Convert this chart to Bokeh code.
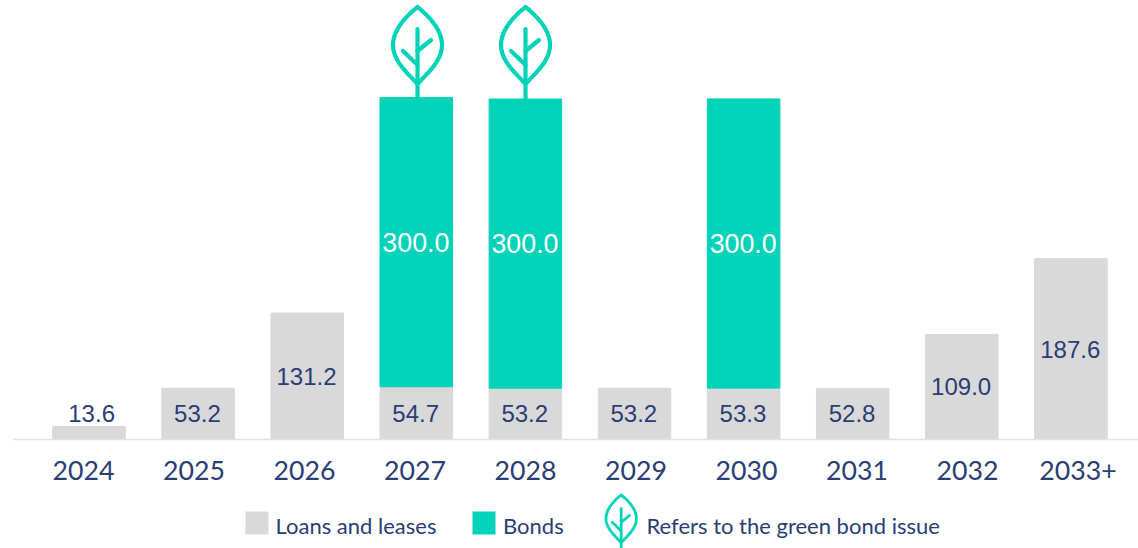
import numpy as np
from bokeh.core.properties import value
from bokeh.embed import file_html
from bokeh.models import ColumnDataSource, FixedTicker, LinearAxis, Range1d
from bokeh.plotting import figure
from bokeh.resources import INLINE

years = ["2024", "2025", "2026", "2027", "2028", "2029", "2030", "2031", "2032", "2033+"]
loans = [13.6, 53.2, 131.2, 54.7, 53.2, 53.2, 53.3, 52.8, 109.0, 187.6]
bonds = [0, 0, 0, 300.0, 300.0, 0, 300.0, 0, 0, 0]
green_years = ["2027", "2028"]
legend_names = ["Loans and leases", "Bonds", "Refers to the green bond issue"]

GREY, GREEN, NAVY = "#d9d9d9", "#00d3b7", "#2a3d75"
W, H, LEFT = 1138, 548, 12
BASE_PX, PX_PER_UNIT = 439.0, 0.964
BAR0, BAR_STEP = 88.5, 109.1
LAB0, LAB_STEP = 83.0, 110.5


def xd(px):
    return (np.asarray(px, dtype=float) - BAR0) / BAR_STEP


def yd(py):
    return (BASE_PX - np.asarray(py, dtype=float)) / PX_PER_UNIT


p = figure(width=W, height=H, output_backend="svg", toolbar_location=None,
           x_range=Range1d(float(xd(LEFT)), float(xd(W))),
           y_range=Range1d(float(yd(H)), float(yd(0))),
           x_axis_location=None, y_axis_location=None,
           min_border_left=LEFT, min_border_right=0, min_border_top=0, min_border_bottom=0,
           background_fill_color="white", border_fill_color="white")
p.outline_line_color = None
p.grid.visible = False

idx = list(range(len(years)))
p.extra_x_ranges["labels"] = Range1d((LEFT - LAB0) / LAB_STEP, (W - LAB0) / LAB_STEP)
axis = LinearAxis(x_range_name="labels", fixed_location=0, ticker=FixedTicker(ticks=idx),
                  major_label_overrides=dict(zip(idx, years)),
                  major_tick_line_color=None, minor_tick_line_color=None,
                  axis_line_color="#e2e2e2", axis_line_width=1.5,
                  major_label_standoff=15,
                  major_label_text_font="Lato", major_label_text_font_size="26.7px",
                  major_label_text_color=NAVY)
p.add_layout(axis, "below")

loans_a, bonds_a = np.array(loans), np.array(bonds)
src = ColumnDataSource(dict(x=idx, loans=loans, top=loans_a + bonds_a))
p.vbar(x="x", bottom=0, top="loans", width=0.665, color=GREY, source=src)
mask = bonds_a > 0
p.vbar(x=np.array(idx)[mask], bottom=loans_a[mask], top=(loans_a + bonds_a)[mask],
       width=0.665, color=GREEN)

# data labels: the smallest bar's label sits above the bar, a little to the right
label_y = np.maximum(loans_a / 2, 26.5)
label_x = np.array(idx, dtype=float) - 0.006
label_x[loans_a < 20] += 0.03
p.text(label_x, label_y, text=[f"{v:.1f}" for v in loans], text_align="center", text_baseline="middle",
       text_font=value("Liberation Sans"), text_font_size="24px", text_color=NAVY)
p.text(np.array(idx)[mask] - 0.004, loans_a[mask] + bonds_a[mask] / 2,
       text=[f"{v:.1f}" for v in bonds_a[mask]], text_align="center", text_baseline="middle",
       text_font=value("Liberation Sans"), text_font_size="26.8px", text_color="white")


def bez(p0, c0, c1, p1, n=24):
    t = np.linspace(0, 1, n)[:, None]
    a = np.array
    return (1-t)**3*a(p0) + 3*(1-t)**2*t*a(c0) + 3*(1-t)*t**2*a(c1) + t**3*a(p1)


def leaf(cx, cy, s, stem_bottom, lw):
    """Leaf icon drawn around page pixel (cx, cy) at scale s."""
    outline = np.vstack([
        bez((0, -38), (10, -30), (24.5, -16), (24.5, 0)),
        bez((24.5, 0), (24.5, 16), (10, 28), (0, 39)),
        bez((0, 39), (-10, 28), (-24.5, 16), (-24.5, 0)),
        bez((-24.5, 0), (-24.5, -16), (-10, -30), (0, -38)),
    ])
    xs = [outline[:, 0] * s + cx,
          np.array([0.0, 0.0]) * s + cx,
          np.array([-14.5, 0.0]) * s + cx,
          np.array([13.5, 0.0]) * s + cx]
    ys = [outline[:, 1] * s + cy,
          np.array([-16.0, (stem_bottom - cy) / s]) * s + cy,
          np.array([6.0, 20.0]) * s + cy,
          np.array([-5.0, 6.0]) * s + cy]
    p.multi_line([xd(v) for v in xs], [yd(v) for v in ys], line_color=GREEN,
                 line_width=lw, line_join="round", line_cap="round")


for year, cx in zip(green_years, (417.0, 525.0)):
    i = years.index(year)
    top_px = BASE_PX - (loans[i] + bonds[i]) * PX_PER_UNIT
    leaf(cx, 44.5, 1.0, top_px, 4.2)

# legend
sw_x = xd([256.5, 483.5])
sw_y = float(yd(522.5))
p.scatter(sw_x, [sw_y, sw_y], marker="square", size=23, color=[GREY, GREEN], line_color=None)
leaf(620.7, 518.0, 0.62, 548.0, 2.8)
p.text(xd([275, 502.5, 646]), [float(yd(524.5))] * 3, text=legend_names,
       text_align="left", text_baseline="middle",
       text_font=value("Lato"), text_font_size="22px", text_color=NAVY)

open("out.html", "w").write(file_html(p, INLINE))
